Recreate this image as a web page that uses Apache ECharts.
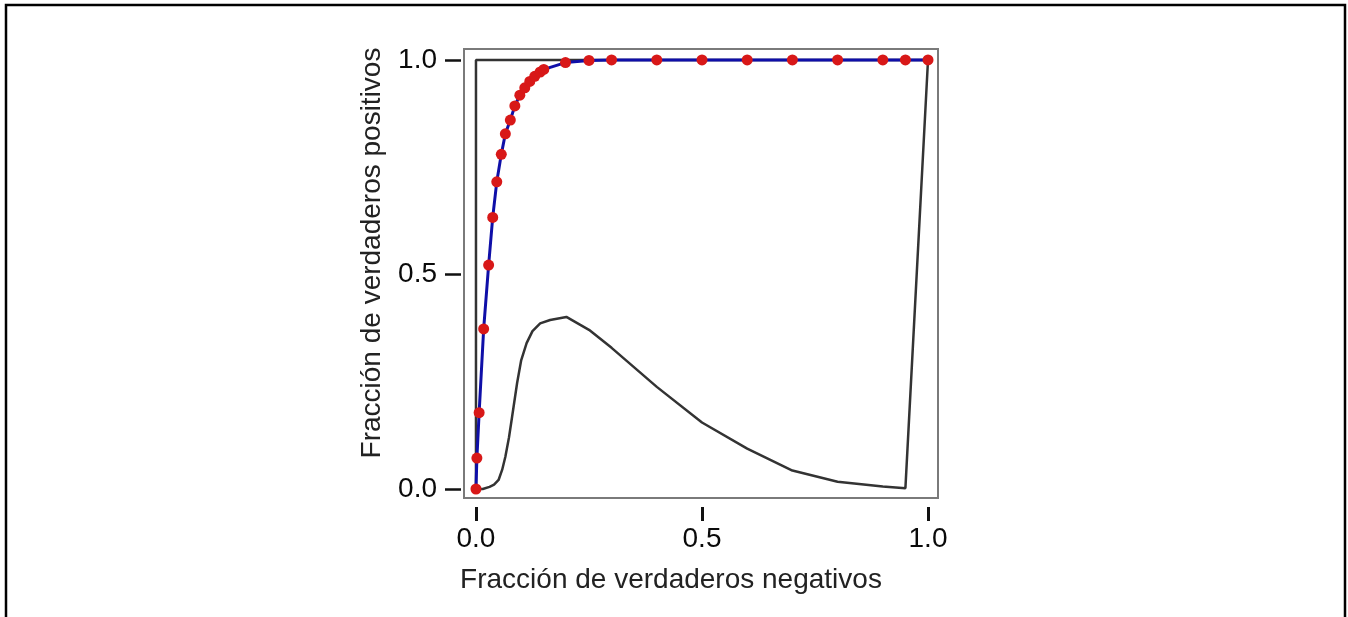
<!DOCTYPE html>
<html>
<head>
<meta charset="utf-8">
<script src="https://cdn.jsdelivr.net/npm/echarts@6/dist/echarts.min.js"></script>
<style>
html,body{margin:0;padding:0;background:#fff;}
#chart{width:1348px;height:617px;}
</style>
</head>
<body>
<div id="chart"></div>
<script>
// ---- data ----
var xTitle = 'Fracción de verdaderos negativos';
var yTitle = 'Fracción de verdaderos positivos';
var tickValues = [0, 0.5, 1.0];
var tickLabels = ['0.0', '0.5', '1.0'];

// black reference curve (path: up the left side, across the top, down right side, back along the hump)
var blackX = [0, 0, 1, 0.95, 0.9, 0.8, 0.7, 0.6, 0.5, 0.4, 0.3, 0.25, 0.2, 0.164, 0.142, 0.125, 0.112, 0.1, 0.091, 0.08, 0.073, 0.065, 0.058, 0.05, 0.04, 0.03, 0.015, 0];
var blackY = [0, 1, 1, 0.002, 0.006, 0.017, 0.043, 0.094, 0.155, 0.238, 0.329, 0.371, 0.401, 0.394, 0.386, 0.368, 0.34, 0.30, 0.247, 0.169, 0.12, 0.075, 0.045, 0.021, 0.01, 0.005, 0.0, 0];

// ROC curve points
var rocX = [0, 0.002, 0.007, 0.017, 0.028, 0.037, 0.046, 0.056, 0.065, 0.076, 0.086, 0.097, 0.108, 0.119, 0.13, 0.142, 0.15, 0.198, 0.25, 0.3, 0.4, 0.5, 0.6, 0.7, 0.8, 0.9, 0.95, 1.0];
var rocY = [0, 0.072, 0.178, 0.373, 0.522, 0.633, 0.716, 0.78, 0.828, 0.86, 0.893, 0.918, 0.935, 0.95, 0.962, 0.972, 0.978, 0.994, 0.999, 1, 1, 1, 1, 1, 1, 1, 1, 1];

function pairs(xs, ys) { return xs.map(function (x, i) { return [x, ys[i]]; }); }

var FONT = "'Liberation Sans', Arial, sans-serif";
var chart = echarts.init(document.getElementById('chart'), null, {renderer: 'canvas'});
chart.setOption({
  backgroundColor: '#ffffff',
  animation: false,
  grid: {
    left: 464, top: 49, width: 474, height: 449,
    show: true, borderColor: '#7a7a7a', borderWidth: 2, backgroundColor: 'transparent'
  },
  xAxis: {
    type: 'value', min: -0.0265, max: 1.0221, offset: 9,
    axisLine: {show: false, onZero: false},
    splitLine: {show: false},
    axisTick: {show: true, customValues: tickValues, length: 14, lineStyle: {color: '#111', width: 3}},
    axisLabel: {
      customValues: tickValues, margin: 18, fontSize: 28, color: '#0a0a0a', fontFamily: FONT,
      formatter: function (v) { return tickLabels[tickValues.indexOf(v)]; }
    }
  },
  yAxis: {
    type: 'value', min: -0.021, max: 1.0256, offset: 3,
    axisLine: {show: false, onZero: false},
    splitLine: {show: false},
    axisTick: {show: true, customValues: tickValues, length: 16, lineStyle: {color: '#111', width: 2.5}},
    axisLabel: {
      customValues: tickValues, margin: 24, fontSize: 28, color: '#0a0a0a', fontFamily: FONT,
      formatter: function (v) { return tickLabels[tickValues.indexOf(v)]; }
    }
  },
  graphic: [
    {type: 'rect', shape: {x: 6, y: 5, width: 1339, height: 640}, style: {fill: 'none', stroke: '#000', lineWidth: 2.5}, silent: true},
    {type: 'text', x: 671, y: 580, style: {text: xTitle, fontSize: 28, fontFamily: FONT, fill: '#222', align: 'center', verticalAlign: 'middle'}},
    {type: 'text', x: 372, y: 253, rotation: Math.PI / 2, style: {text: yTitle, fontSize: 28, fontFamily: FONT, fill: '#222', align: 'center', verticalAlign: 'middle'}}
  ],
  series: [
    {
      type: 'line', data: pairs(blackX, blackY), showSymbol: false, smooth: false,
      lineStyle: {color: '#333', width: 2.5}, z: 2
    },
    {
      type: 'line', data: pairs(rocX, rocY), symbol: 'circle', symbolSize: 11, showAllSymbol: true,
      lineStyle: {color: '#0f0fa8', width: 3}, itemStyle: {color: '#d81818'}, z: 3
    }
  ]
});
</script>
</body>
</html>
